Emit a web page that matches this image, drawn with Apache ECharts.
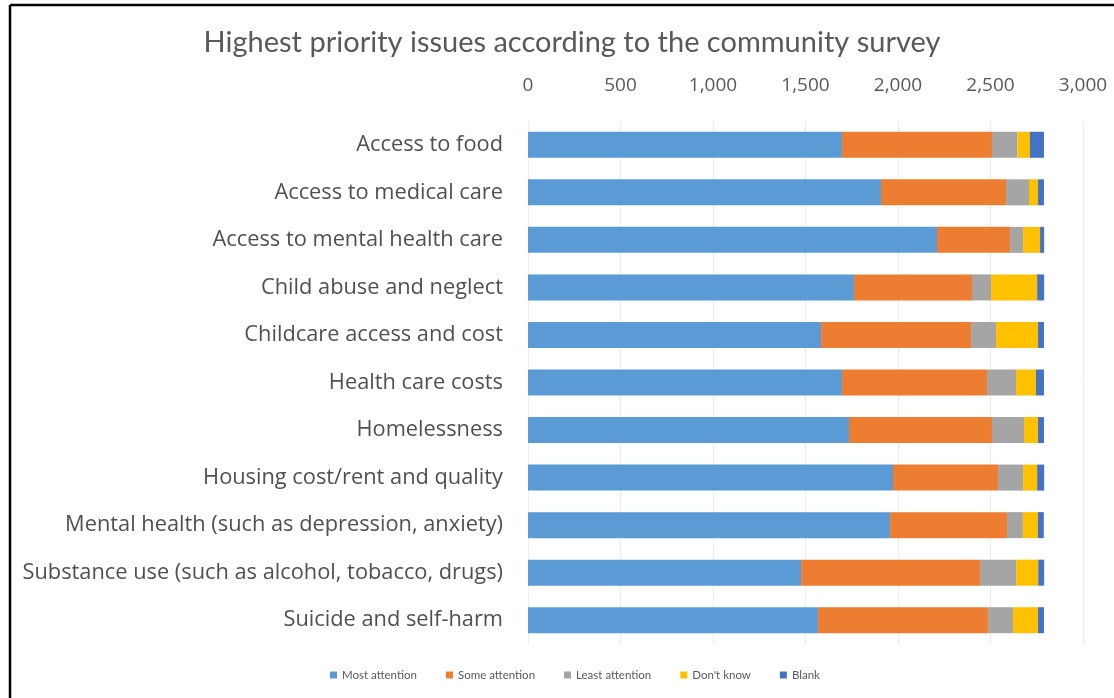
<!DOCTYPE html>
<html>
<head>
<meta charset="utf-8">
<script src="https://cdn.jsdelivr.net/npm/echarts@6/dist/echarts.min.js"></script>
<style>
html,body{margin:0;padding:0;background:#fff;}
#chart{width:1114px;height:698px;}
</style>
</head>
<body>
<div id="chart"></div>
<script>
const categories = [
  "Access to food",
  "Access to medical care",
  "Access to mental health care",
  "Child abuse and neglect",
  "Childcare access and cost",
  "Health care costs",
  "Homelessness",
  "Housing cost/rent and quality",
  "Mental health (such as depression, anxiety)",
  "Substance use (such as alcohol, tobacco, drugs)",
  "Suicide and self-harm"
];
const mostAttention  = [1697, 1908, 2211, 1762, 1584, 1697, 1735, 1973, 1957, 1476, 1568];
const someAttention  = [ 811,  676,  395,  638,  811,  784,  773,  568,  632,  968,  919];
const leastAttention = [ 138,  124,   70,  103,  135,  157,  173,  135,   86,  195,  135];
const dontKnow       = [  67,   49,   92,  249,  227,  108,   76,   76,   81,  119,  135];
const blank          = [  76,   32,   22,   38,   32,   43,   32,   38,   32,   32,   32];
const seriesNames = ["Most attention", "Some attention", "Least attention", "Don't know", "Blank"];
const seriesData = [mostAttention, someAttention, leastAttention, dontKnow, blank];
const colors = ["#5B9BD5", "#ED7D31", "#A5A5A5", "#FFC000", "#4472C4"];
const xTicks = [0, 500, 1000, 1500, 2000, 2500, 3000];

const chart = echarts.init(document.getElementById('chart'), null, {renderer: 'canvas'});
const titleFont = "Lato, 'Open Sans', sans-serif";
const font = "'Open Sans', Lato, sans-serif";
chart.setOption({
  animation: false,
  backgroundColor: '#ffffff',
  title: {
    text: 'Highest priority issues according to the community survey',
    left: 567, top: 23, textAlign: 'center',
    textStyle: {fontFamily: titleFont, fontSize: 29, fontWeight: 'normal', color: '#595959'}
  },
  legend: {
    data: seriesNames,
    bottom: 12, left: 325,
    itemWidth: 7, itemHeight: 7, itemGap: 29,
    icon: 'rect',
    textStyle: {fontFamily: titleFont, fontSize: 11.5, color: '#595959'}
  },
  grid: {left: 528, right: 31, top: 121, height: 523, containLabel: false},
  xAxis: {
    type: 'value', position: 'top', min: 0, max: 3000, interval: 500,
    axisLine: {show: false}, axisTick: {show: false},
    splitLine: {show: true, lineStyle: {color: '#ECECEC', width: 1}},
    axisLabel: {
      fontFamily: font, fontSize: 19, color: '#595959', margin: 26,
      formatter: v => xTicks.includes(v) ? v.toLocaleString('en-US') : ''
    }
  },
  yAxis: {
    type: 'category', data: categories, inverse: true,
    axisLine: {show: false}, axisTick: {show: false},
    axisLabel: {fontFamily: font, fontSize: 21.8, color: '#505050', margin: 25}
  },
  series: seriesNames.map((n, i) => ({
    name: n, type: 'bar', stack: 'total', data: seriesData[i],
    barWidth: 26,
    itemStyle: {color: colors[i]}
  })),
  graphic: [
    {type: 'line', shape: {x1: 10, y1: 5, x2: 1114, y2: 5}, style: {stroke: '#000', lineWidth: 2.5}},
    {type: 'line', shape: {x1: 10, y1: 5, x2: 10, y2: 698}, style: {stroke: '#000', lineWidth: 2.5}}
  ]
});
</script>
</body>
</html>
